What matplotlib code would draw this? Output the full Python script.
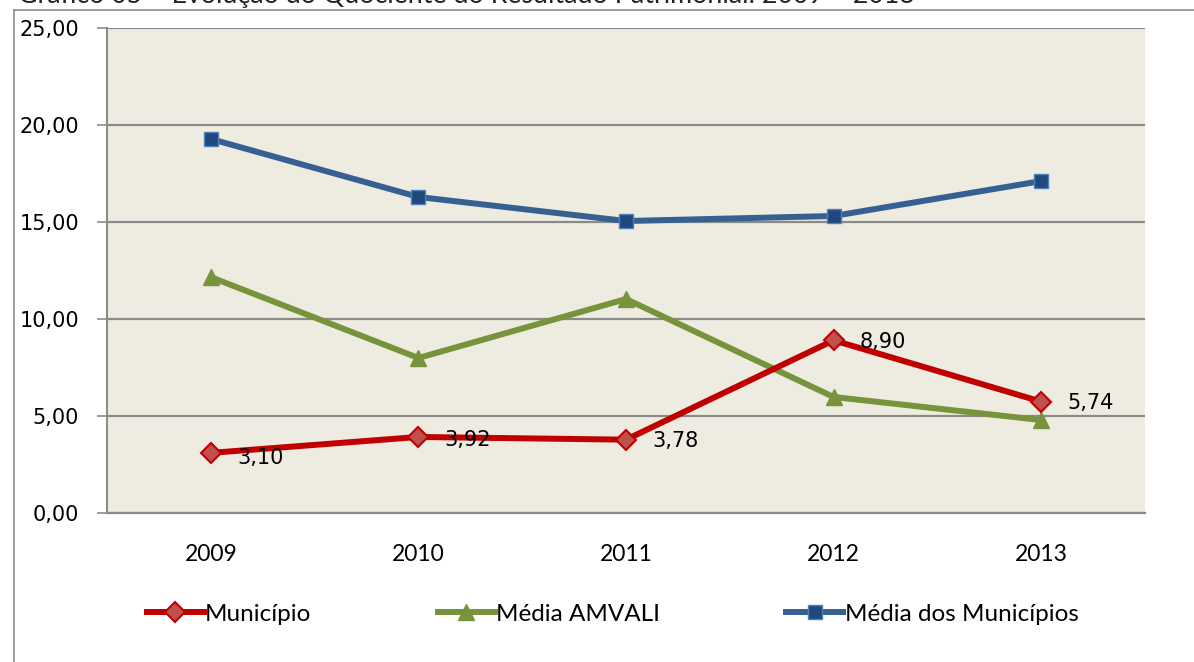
import matplotlib
matplotlib.use("Agg")
import matplotlib.pyplot as plt
from matplotlib.lines import Line2D

years = ["2009", "2010", "2011", "2012", "2013"]
municipio = [3.10, 3.92, 3.78, 8.90, 5.74]
media_amvali = [12.16, 7.99, 11.03, 5.98, 4.79]
media_municipios = [19.28, 16.29, 15.05, 15.31, 17.11]
yticks = [0, 5, 10, 15, 20, 25]
ytick_labels = ["0,00", "5,00", "10,00", "15,00", "20,00", "25,00"]
point_labels = ["3,10", "3,92", "3,78", "8,90", "5,74"]
title = "Gráfico 05 – Evolução do Quociente do Resultado Patrimonial: 2009 – 2013"

W, H = 1194, 662
fig = plt.figure(figsize=(W / 100, H / 100), dpi=100)
fig.patch.set_facecolor("white")

# outer frame (left and top edges visible)
fig.add_artist(Line2D([14 / W, 14 / W], [0, 1 - 10 / H], transform=fig.transFigure,
                      color="#8c8c8c", lw=1.2))
fig.add_artist(Line2D([14 / W, 1], [1 - 10 / H, 1 - 10 / H], transform=fig.transFigure,
                      color="#8c8c8c", lw=1.2))
# title, cut at the top edge as in the source image
fig.text(18 / W, 1 - 3 / H, title, ha="left", va="baseline", fontsize=19.3,
         family="Lato", color="#222222")

ax = fig.add_axes([107 / W, 1 - 513 / H, (1145 - 107) / W, (513 - 28) / H])
ax.set_facecolor("#EEEBE1")
x = list(range(len(years)))

ax.set_xlim(-0.5, len(years) - 0.5)
ax.set_ylim(0, 25)
ax.set_yticks(yticks)
ax.set_yticklabels(ytick_labels)
for t in ax.get_yticklabels():
    t.set_fontfamily("DejaVu Sans")
    t.set_fontsize(15)
ax.set_xticks(x)
ax.set_xticklabels(years)
for t in ax.get_xticklabels():
    t.set_fontfamily("Lato")
    t.set_fontsize(16.5)
ax.tick_params(axis="y", direction="out", length=7, width=1.2, color="#8c8c8c", pad=13)
ax.tick_params(axis="x", length=0, pad=22)
ax.yaxis.grid(True, color="#8a8a8a", lw=1.6)
ax.set_axisbelow(True)
for s in ["top", "right"]:
    ax.spines[s].set_visible(False)
ax.spines["left"].set_color("#8c8c8c")
ax.spines["left"].set_linewidth(1.5)
ax.spines["bottom"].set_color("#8a8a8a")
ax.spines["bottom"].set_linewidth(1.6)

l1, = ax.plot(x, municipio, color="#C00000", lw=4.3, marker="D", ms=10,
              mfc="#C0504D", mec="#C00000", mew=1.5, label="Município", zorder=5)
l2, = ax.plot(x, media_amvali, color="#77933C", lw=4.3, marker="^", ms=11,
              mfc="#77933C", mec="#77933C", label="Média AMVALI", zorder=4)
l3, = ax.plot(x, media_municipios, color="#376092", lw=4.3, marker="s", ms=10,
              mfc="#1F497D", mec="#4F81BD", mew=1, label="Média dos Municípios", zorder=4)

offsets = [(-4), (-2), (-1), (-1), (-1)]
for xi, yi, lab, dy in zip(x, municipio, point_labels, offsets):
    ax.annotate(lab, (xi, yi), xytext=(19, dy), textcoords="offset points",
                ha="left", va="center", fontsize=15, family="DejaVu Sans", zorder=6)

fig.legend(handles=[l1, l2, l3], loc="center", bbox_to_anchor=(0.513, 1 - 614 / H),
           ncol=3, frameon=False, prop={"family": "Lato", "size": 17.5},
           handlelength=2.35, handletextpad=0.05, columnspacing=5.2)

fig.savefig("out.png", dpi=100)
